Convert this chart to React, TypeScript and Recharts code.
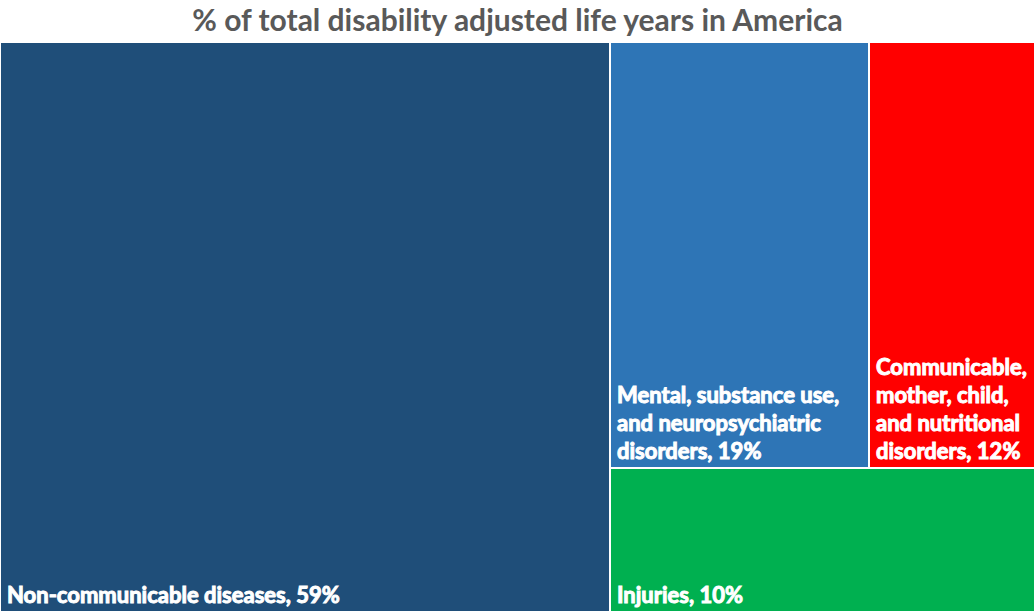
import React from 'react';
import { Treemap } from 'recharts';

const categories = [
  'Non-communicable diseases',
  'Mental, substance use, and neuropsychiatric disorders',
  'Communicable, mother, child, and nutritional disorders',
  'Injuries',
];
// shares (labels show them rounded)
const shares = [58.9, 18.7, 12.0, 10.4];
// how each label is broken into lines inside its box
const labelLines = [
  ['Non-communicable diseases, 59%'],
  ['Mental, substance use,', 'and neuropsychiatric', 'disorders, 19%'],
  ['Communicable,', 'mother, child,', 'and nutritional', 'disorders, 12%'],
  ['Injuries, 10%'],
];
const colors = ['#1F4E79', '#2E75B6', '#FF0000', '#00B050'];

const data = categories.map((name, i) => ({
  name,
  size: shares[i],
}));

const FONT = 'Lato, "Liberation Sans", sans-serif';

function Cell(props: any) {
  const { x, y, width, height, depth, name } = props;
  if (depth !== 1) return null;
  const i = categories.indexOf(name);
  const lines = labelLines[i] || [];
  const lineH = 28;
  const bottom = y + height - 9;
  return (
    <g>
      <rect
        x={x}
        y={y}
        width={width}
        height={height}
        fill={colors[i]}
        stroke="#fff"
        strokeWidth={2}
      />
      {lines.map((t, k) => (
        <text
          key={k}
          x={x + 7}
          y={bottom - (lines.length - 1 - k) * lineH}
          fill="#fff"
          fontSize={22}
          fontWeight={700}
          fontFamily={FONT}
        >
          {t}
        </text>
      ))}
    </g>
  );
}

export default function App() {
  return (
    <div
      style={{
        position: 'absolute',
        left: 0,
        top: 0,
        width: 1035,
        height: 612,
        background: '#fff',
      }}
    >
      <div
        style={{
          height: 42,
          lineHeight: '38px',
          textAlign: 'center',
          fontFamily: FONT,
          fontWeight: 700,
          fontSize: 30,
          color: '#595959',
        }}
      >
        % of total disability adjusted life years in America
      </div>
      <Treemap
        width={1035}
        height={570}
        data={data}
        dataKey="size"
        nameKey="name"
        stroke="#fff"
        isAnimationActive={false}
        content={<Cell />}
      />
    </div>
  );
}
